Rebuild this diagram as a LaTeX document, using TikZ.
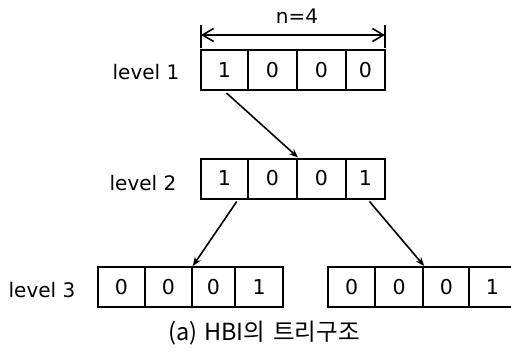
\documentclass[tikz,border=0pt]{standalone}
\usepackage{fontspec}
\setmainfont{DejaVu Sans}
\newfontfamily\krfont{Noto Sans CJK KR}
\usetikzlibrary{arrows.meta,calc}
\tikzset{
  cell/.style={draw, line width=2pt, minimum height=40pt, inner sep=0pt,
    font=\fontsize{20.5}{20}\selectfont, anchor=center},
  lbl/.style={font=\fontsize{20}{20}\selectfont, inner sep=0pt},
  arr/.style={-{Stealth[length=9pt,width=7pt]}, line width=1.6pt},
  dim/.style={{Straight Barb[length=11pt,width=13pt]}-{Straight Barb[length=11pt,width=13pt]}, line width=1.6pt},
}
\begin{document}
\begin{tikzpicture}[x=1pt,y=-1pt]
\useasboundingbox (0,0) rectangle (511,351);

% level 1
\node[cell, minimum width=47pt] (a1) at (224.5,70) {1};
\node[cell, minimum width=49pt] (a2) at (272.5,70) {0};
\node[cell, minimum width=49pt] (a3) at (321.5,70) {0};
\node[cell, minimum width=39pt] (a4) at (365.5,70) {0};
\node[lbl] (l1) at (146,72) {level 1};

% width marker above level 1
\coordinate (t1a) at (201,25);
\coordinate (t1b) at (201,48);
\coordinate (t2a) at (385,25);
\coordinate (t2b) at (385,48);
\draw[line width=1.6pt] (t1a) -- (t1b);
\draw[line width=1.6pt] (t2a) -- (t2b);
\coordinate (d1) at (201,35);
\coordinate (d2) at (385,35);
\draw[dim] (d1) -- (d2);
\node[lbl] (n) at (297,16) {n=4};

% level 2
\node[cell, minimum width=47pt] (b1) at (224.5,178.5) {1};
\node[cell, minimum width=49pt] (b2) at (272.5,178.5) {0};
\node[cell, minimum width=49pt] (b3) at (321.5,178.5) {0};
\node[cell, minimum width=39pt] (b4) at (365.5,178.5) {1};
\node[lbl] (l2) at (143,183) {level 2};

% level 3, left
\node[cell, minimum width=47pt] (c1) at (121.3,287) {0};
\node[cell, minimum width=47pt] (c2) at (168.3,287) {0};
\node[cell, minimum width=43pt] (c3) at (213.3,287) {0};
\node[cell, minimum width=48pt] (c4) at (259.2,287) {1};
\node[lbl] (l3) at (42,290) {level 3};

% level 3, right
\node[cell, minimum width=47pt] (e1) at (351.7,287) {0};
\node[cell, minimum width=48pt] (e2) at (399.2,287) {0};
\node[cell, minimum width=46pt] (e3) at (446.3,287) {0};
\node[cell, minimum width=46pt] (e4) at (492.3,287) {1};

% links
\draw[arr] ($(a1.south)+(2,2)$) -- (b2.north east);
\draw[arr] ($(b1.south)!0.5!(b1.south east)+(0,2)$) -- (c2.north east);
\draw[arr] ($(b4.south)+(4,2)$) -- (e2.north east);

% caption
\node[font=\krfont\fontsize{23.5}{24}\selectfont, inner sep=0pt] (cap) at (264,333)
  {(a)\hspace{7pt}HBI의\hspace{8pt}트리구조};
\end{tikzpicture}
\end{document}
